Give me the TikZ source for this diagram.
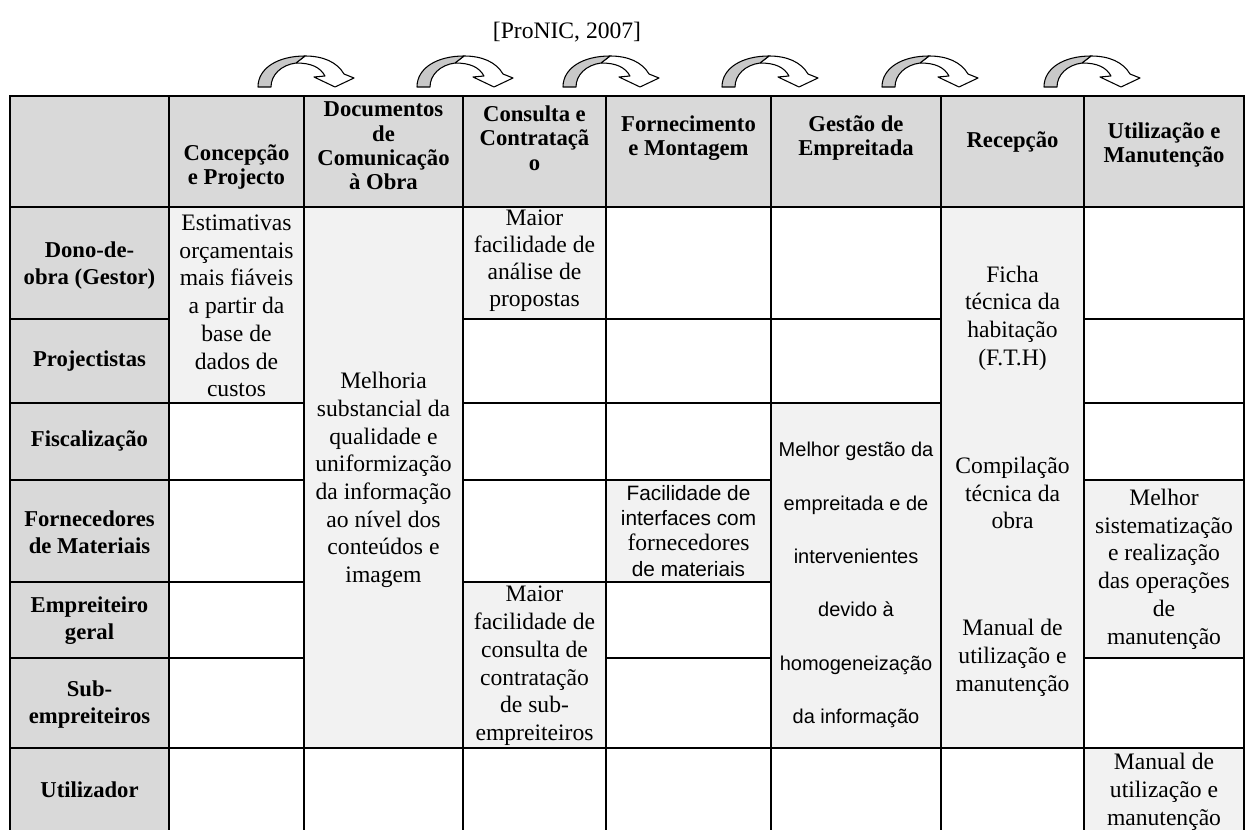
\documentclass[tikz,border=0pt]{standalone}
\usepackage{fontspec}
\setmainfont{Liberation Serif}
\newfontfamily\arialf{Liberation Sans}
\definecolor{hdr}{RGB}{217,217,217}
\definecolor{lite}{RGB}{242,242,242}
\definecolor{arrowgray}{RGB}{200,200,200}
\tikzset{
  gridline/.style={line width=1.5pt, draw=black},
  body/.style={align=center, inner sep=0pt, font=\fontsize{17.7}{20.8}\selectfont},
  head/.style={align=center, inner sep=0pt, font=\fontsize{17}{18.2}\selectfont\bfseries},
  rowlab/.style={align=center, inner sep=0pt, font=\fontsize{17}{20.3}\selectfont\bfseries},
  sansbody/.style={align=center, inner sep=0pt, font=\arialf\fontsize{15.6}{18.8}\selectfont},
  sanswide/.style={align=center, inner sep=0pt, font=\arialf\fontsize{15}{40}\selectfont},
  arrowline/.style={line width=0.8pt, draw=black, line join=round},
}
\newcommand{\curvarrow}[1]{%
  \begin{scope}[shift={(#1,87)}]
    \filldraw[arrowline, fill=white] (47,-31) .. controls (65,-31) and (79,-25) .. (86,-13)
      -- (96,-9) -- (77,0) -- (56,-10) -- (67,-11)
      .. controls (62,-20) and (53,-24) .. (38,-24) -- cycle;
    \filldraw[arrowline, fill=arrowgray] (0,0) .. controls (0,-19) and (20,-31) .. (47,-31)
      -- (38,-24) .. controls (23,-22) and (13,-12) .. (13,0) -- cycle;
  \end{scope}}
\begin{document}
\begin{tikzpicture}[x=0.75pt,y=-0.75pt]
\useasboundingbox (0,0) rectangle (1252,830);
\fill[white] (0,0) rectangle (1252,830);
\def\celllist{10/96/169/207/hdr, 169/96/304/207/hdr, 304/96/463/207/hdr, 463/96/606/207/hdr,
 606/96/771/207/hdr, 771/96/941/207/hdr, 941/96/1084/207/hdr, 1084/96/1244/207/hdr,
 10/207/169/319/hdr, 10/319/169/403/hdr, 10/403/169/480/hdr, 10/480/169/582/hdr,
 10/582/169/658/hdr, 10/658/169/748/hdr, 10/748/169/840/hdr,
 169/207/304/403/lite, 169/403/304/480/white, 169/480/304/582/white, 169/582/304/658/white,
 169/658/304/748/white, 169/748/304/840/white,
 304/207/463/748/lite, 304/748/463/840/white,
 463/207/606/319/lite, 463/319/606/403/white, 463/403/606/480/white, 463/480/606/582/white,
 463/582/606/748/lite, 463/748/606/840/white,
 606/207/771/319/white, 606/319/771/403/white, 606/403/771/480/white, 606/480/771/582/lite,
 606/582/771/658/white, 606/658/771/748/white, 606/748/771/840/white,
 771/207/941/319/white, 771/319/941/403/white, 771/403/941/748/lite, 771/748/941/840/white,
 941/207/1084/748/lite, 941/748/1084/840/white,
 1084/207/1244/319/white, 1084/319/1244/403/white, 1084/403/1244/480/white,
 1084/480/1244/658/lite, 1084/658/1244/748/white, 1084/748/1244/840/lite}
\foreach \a/\b/\c/\d/\f in \celllist { \fill[\f] (\a,\b) rectangle (\c,\d); }
\foreach \a/\b/\c/\d/\f in \celllist { \draw[gridline] (\a,\b) rectangle (\c,\d); }

% title and arrows
\node[body] (src) at (567,32) {[ProNIC, 2007]};
\curvarrow{258}
\curvarrow{417}
\curvarrow{563}
\curvarrow{722}
\curvarrow{882}
\curvarrow{1044}

% header
\node[head] (h1) at (236.5,167) {Concepção\\e Projecto};
\node[head] (h2) at (383.5,146) {Documentos\\de\\Comunicação\\à Obra};
\node[head] (h3) at (534.5,138) {Consulta e\\Contrataçã\\o};
\node[head] (h4) at (688.5,138) {Fornecimento\\e Montagem};
\node[head] (h5) at (856,138) {Gestão de\\Empreitada};
\node[head] (h6) at (1012.5,142) {Recepção};
\node[head] (h7) at (1164,145) {Utilização e\\Manutenção};

% row labels
\node[rowlab] (r1) at (89.5,266) {Dono-de-\\obra (Gestor)};
\node[rowlab] (r2) at (89.5,361) {Projectistas};
\node[rowlab] (r3) at (89.5,441) {Fiscalização};
\node[rowlab] (r4) at (89.5,532) {Fornecedores\\de Materiais};
\node[rowlab] (r5) at (89.5,621) {Empreiteiro\\geral};
\node[rowlab] (r6) at (89.5,705) {Sub-\\empreiteiros};
\node[rowlab] (r7) at (89.5,790) {Utilizador};

% body
\node[body] (b1) at (236.5,306) {Estimativas\\orçamentais\\mais fiáveis\\a partir da\\base de\\dados de\\custos};
\node[body] (b2) at (383.5,480) {Melhoria\\substancial da\\qualidade e\\uniformização\\da informação\\ao nível dos\\conteúdos e\\imagem};
\node[body, font=\fontsize{17.7}{20.2}\selectfont] (b3) at (534.5,261) {Maior\\facilidade de\\análise de\\propostas};
\node[body] (b4) at (534.5,666) {Maior\\facilidade de\\consulta de\\contratação\\de sub-\\empreiteiros};
\node[sansbody] (b5) at (688.5,531) {Facilidade de\\interfaces com\\{\rmfamily\fontsize{17.7}{18.8}\selectfont fornecedores}\\de materiais};
\node[sanswide] (b6) at (856,585) {Melhor gestão da\\empreitada e de\\intervenientes\\devido à\\homogeneização\\da informação};
\node[body] (b7) at (1012.5,318) {Ficha\\técnica da\\habitação\\(F.T.H)};
\node[body] (b8) at (1012.5,493) {Compilação\\técnica da\\obra};
\node[body] (b9) at (1012.5,658) {Manual de\\utilização e\\manutenção};
\node[body] (b10) at (1164,569) {Melhor\\sistematização\\e realização\\das operações\\de\\manutenção};
\node[body] (b11) at (1164,792) {Manual de\\utilização e\\manutenção};
\end{tikzpicture}
\end{document}
